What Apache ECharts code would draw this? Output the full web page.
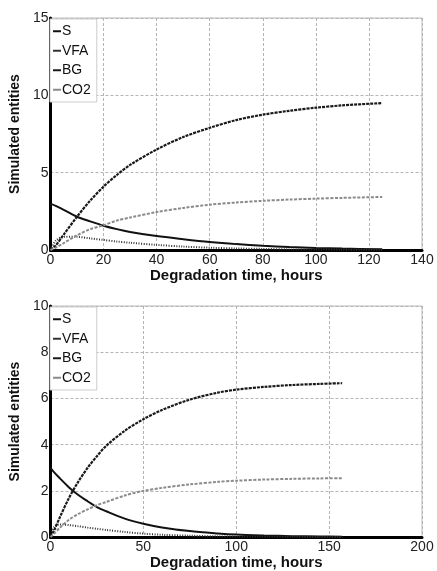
<!DOCTYPE html>
<html><head><meta charset="utf-8">
<script src="https://cdn.jsdelivr.net/npm/echarts@6/dist/echarts.min.js"></script>
<style>html,body{margin:0;padding:0;background:#fff}#c{width:437px;height:571px}</style>
</head><body><div id="c"></div>
<script>
// Top panel
var timeTop = [0,2,5,10,15,20,25,30,40,50,60,70,80,90,100,110,125];
var sTop    = [3.0,2.85,2.6,2.15,1.85,1.57,1.35,1.17,0.9,0.7,0.52,0.38,0.27,0.19,0.13,0.09,0.05];
var vfaTop  = [0,0.6,0.85,0.85,0.75,0.65,0.55,0.47,0.33,0.22,0.15,0.1,0.07,0.04,0.03,0.02,0.01];
var bgTop   = [0,0.3,1.0,2.15,3.2,4.1,4.85,5.5,6.5,7.3,7.9,8.4,8.75,9.0,9.2,9.35,9.5];
var co2Top  = [0,0.15,0.45,0.95,1.35,1.6,1.9,2.1,2.45,2.72,2.93,3.07,3.18,3.26,3.32,3.37,3.43];
// Bottom panel
var timeBot = [0,2,5,10,15,20,25,30,40,50,60,75,90,100,115,130,145,157];
var sBot    = [3.0,2.8,2.55,2.15,1.82,1.55,1.3,1.12,0.8,0.58,0.42,0.26,0.16,0.11,0.07,0.04,0.03,0.02];
var vfaBot  = [0,0.45,0.55,0.52,0.47,0.41,0.36,0.31,0.22,0.15,0.1,0.06,0.03,0.02,0.01,0.01,0,0];
var bgBot   = [0,0.3,0.85,1.7,2.4,3.0,3.5,3.95,4.6,5.1,5.5,5.95,6.25,6.38,6.5,6.58,6.63,6.66];
var co2Bot  = [0,0.15,0.4,0.75,1.0,1.2,1.38,1.52,1.8,2.0,2.13,2.28,2.39,2.44,2.49,2.52,2.54,2.55];
var names = ['S','VFA','BG','CO2'];

function pairs(t, v){ return t.map(function(x,i){return [x, v[i]];}); }
var styles = {
  'S':   {color:'#111', type:'solid', width:2},
  'VFA': {color:'#333', type:[1,1.5], width:2},
  'BG':  {color:'#1a1a1a', type:[3,1], width:2.2},
  'CO2': {color:'#8a8a8a', type:[3,1.5], width:2}
};
function mk(name, t, v, idx){
  var st = styles[name];
  return {name:name, type:'line', xAxisIndex:idx, yAxisIndex:idx, data:pairs(t,v),
    showSymbol:false, symbol:'none', smooth:0.3, silent:true,
    lineStyle:{color:st.color, type:st.type, width:st.width}, itemStyle:{color:st.color}};
}
var font = 'Liberation Sans, Arial, sans-serif';
function xAx(idx, max, interval){
  return {gridIndex:idx, type:'value', min:0, max:max, interval:interval,
    name:'Degradation time, hours', nameLocation:'middle', nameGap:17,
    nameTextStyle:{fontFamily:font, fontWeight:'bold', fontSize:15, color:'#111'},
    axisLine:{show:true, lineStyle:{color:'#000', width:3}},
    axisTick:{show:false},
    axisLabel:{fontFamily:font, fontSize:14, color:'#222', margin:3},
    splitLine:{show:true, lineStyle:{color:'#b5b5b5', type:[3,2], width:1}}};
}
function yAx(idx, max, interval){
  return {gridIndex:idx, type:'value', min:0, max:max, interval:interval,
    name:'Simulated entities', nameLocation:'middle', nameGap:22,
    nameTextStyle:{fontFamily:font, fontWeight:'bold', fontSize:14, color:'#111'},
    axisLine:{show:true, lineStyle:{color:'#000', width:3}},
    axisTick:{show:false},
    axisLabel:{fontFamily:font, fontSize:14, color:'#222', margin:2},
    splitLine:{show:true, lineStyle:{color:'#b5b5b5', type:[3,2], width:1}}};
}
function legend(top){
  return {orient:'vertical', left:50, top:top, itemWidth:8, itemHeight:2, itemGap:5,
    padding:[5,6,5,3], borderColor:'#ccc', borderWidth:1, backgroundColor:'#fff',
    icon:'rect',
    textStyle:{fontFamily:font, fontSize:14, color:'#111', padding:[0,0,0,-4], lineHeight:14.5},
    data:names, selectedMode:false};
}
var chart = echarts.init(document.getElementById('c'), null, {renderer:'canvas'});
chart.setOption({
  animation:false,
  grid:[{left:49, top:18, width:373, height:232, show:true, borderColor:'#bbb', borderWidth:1},
        {left:50, top:306, width:372, height:232, show:true, borderColor:'#bbb', borderWidth:1}],
  xAxis:[xAx(0,140,20), xAx(1,200,50)],
  yAxis:[yAx(0,15,5), yAx(1,10,2)],
  legend:[legend(19), legend(307)],
  series:[
    mk('S',timeTop,sTop,0), mk('VFA',timeTop,vfaTop,0), mk('BG',timeTop,bgTop,0), mk('CO2',timeTop,co2Top,0),
    mk('S',timeBot,sBot,1), mk('VFA',timeBot,vfaBot,1), mk('BG',timeBot,bgBot,1), mk('CO2',timeBot,co2Bot,1)
  ]
});
</script></body></html>
